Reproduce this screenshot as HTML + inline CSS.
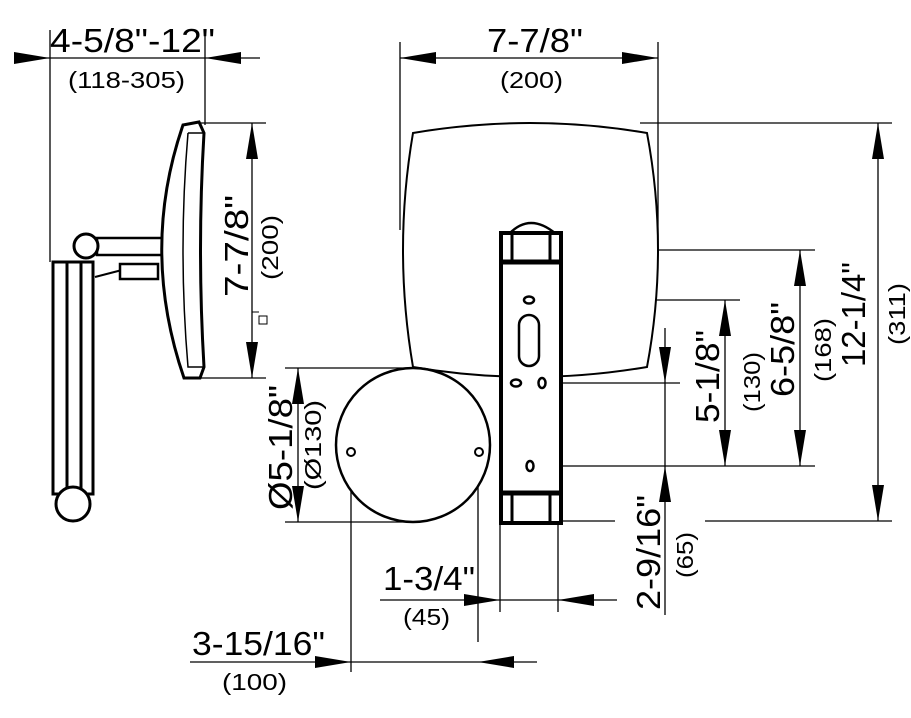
<!DOCTYPE html>
<html><head><meta charset="utf-8"><style>
html,body{margin:0;padding:0;background:#fff;}
svg{display:block;font-family:"Liberation Sans",Arial,sans-serif;}
</style></head><body>
<svg width="911" height="718" viewBox="0 0 911 718" xmlns="http://www.w3.org/2000/svg">
<g stroke="#000" stroke-width="1.3" fill="none">
<line x1="50" y1="30" x2="50" y2="262"/>
<line x1="205" y1="30" x2="205" y2="125"/>
<line x1="14" y1="58" x2="260" y2="58"/>
<line x1="200" y1="123" x2="266" y2="123"/>
<line x1="200" y1="378" x2="266" y2="378"/>
<line x1="252" y1="123" x2="252" y2="378"/>
<rect x="259" y="316" width="8" height="8" stroke-width="1"/>
<line x1="252" y1="312" x2="259" y2="312" stroke-width="1"/>
<line x1="400" y1="42" x2="400" y2="230"/>
<line x1="658" y1="42" x2="658" y2="250"/>
<line x1="400" y1="58" x2="658" y2="58"/>
<line x1="640" y1="123" x2="892" y2="123"/>
<line x1="705" y1="521" x2="892" y2="521"/>
<line x1="878" y1="123" x2="878" y2="521"/>
<line x1="658" y1="250" x2="815" y2="250"/>
<line x1="560" y1="466" x2="815" y2="466"/>
<line x1="800" y1="250" x2="800" y2="466"/>
<line x1="540" y1="300" x2="740" y2="300"/>
<line x1="545" y1="383" x2="680" y2="383"/>
<line x1="725" y1="300" x2="725" y2="466"/>
<line x1="665" y1="328" x2="665" y2="615"/>
<line x1="560" y1="521" x2="615" y2="521"/>
<line x1="500" y1="523" x2="500" y2="612"/>
<line x1="558" y1="523" x2="558" y2="612"/>
<line x1="478" y1="455" x2="478" y2="642"/>
<line x1="351" y1="455" x2="351" y2="672"/>
<line x1="380" y1="600" x2="617" y2="600"/>
<line x1="190" y1="662" x2="537" y2="662"/>
<line x1="285" y1="368" x2="413" y2="368"/>
<line x1="285" y1="522" x2="413" y2="522"/>
<line x1="298" y1="368" x2="298" y2="522"/>
</g>
<g fill="#000">
<polygon points="14,52 50,58 14,64"/>
<polygon points="241,52 205,58 241,64"/>
<polygon points="436,52 400,58 436,64"/>
<polygon points="622,52 658,58 622,64"/>
<polygon points="464,594 500,600 464,606"/>
<polygon points="594,594 558,600 594,606"/>
<polygon points="315,656 351,662 315,668"/>
<polygon points="514,656 478,662 514,668"/>
<polygon points="246,159 252,123 258,159"/>
<polygon points="246,342 252,378 258,342"/>
<polygon points="872,159 878,123 884,159"/>
<polygon points="872,485 878,521 884,485"/>
<polygon points="794,286 800,250 806,286"/>
<polygon points="794,430 800,466 806,430"/>
<polygon points="719,336 725,300 731,336"/>
<polygon points="719,430 725,466 731,430"/>
<polygon points="659,347 665,383 671,347"/>
<polygon points="659,502 665,466 671,502"/>
<polygon points="292,404 298,368 304,404"/>
<polygon points="292,486 298,522 304,486"/>
</g>
<g stroke="#000" fill="#fff" stroke-width="3">
<rect x="53" y="262" width="40" height="232"/>
<line x1="67" y1="262" x2="67" y2="494"/>
<line x1="81" y1="262" x2="81" y2="494"/>
<circle cx="73" cy="504" r="17"/>
<rect x="97" y="238" width="65" height="17" stroke-width="2.5"/>
<circle cx="86" cy="246" r="12"/>
<line x1="95" y1="277" x2="122" y2="270" stroke-width="2"/>
<rect x="120" y="264" width="38" height="15" stroke-width="2.5"/>
<path d="M183,125 L199,122 L204,133 Q197,250 204,367 L200,378 L184,378 Q140,250 183,125 Z"/>
<path d="M188,133 L204,133 M188,133 Q178,250 188,367 L204,367" stroke-width="1.5" fill="none"/>
</g>
<g stroke="#000" fill="#fff" stroke-width="2.5">
<path d="M413,133 Q530,113 647,133 Q669,250 647,367 Q530,387 413,367 Q393,250 413,133 Z" stroke-width="2"/>
<circle cx="413" cy="445" r="77"/>
<circle cx="351" cy="452" r="4" stroke-width="2"/>
<circle cx="479" cy="452" r="4" stroke-width="2"/>
<path d="M509,234 Q530,212 556,234 Z"/>
<rect x="501" y="233" width="60" height="290" stroke-width="4"/>
<line x1="501" y1="262" x2="561" y2="262" stroke-width="5"/>
<line x1="501" y1="493" x2="561" y2="493" stroke-width="5"/>
<line x1="512" y1="233" x2="512" y2="262" stroke-width="3"/>
<line x1="550" y1="233" x2="550" y2="262" stroke-width="3"/>
<line x1="512" y1="493" x2="512" y2="523" stroke-width="3"/>
<line x1="550" y1="493" x2="550" y2="523" stroke-width="3"/>
<ellipse cx="529" cy="300" rx="5" ry="3.5"/>
<rect x="519" y="315" width="20" height="51" rx="10"/>
<ellipse cx="516" cy="383" rx="5" ry="3.5"/>
<ellipse cx="542" cy="383" rx="3.5" ry="5"/>
<ellipse cx="530" cy="466" rx="3.5" ry="5"/>
</g>
<g fill="#000" font-size="33">
<text x="50" y="52" textLength="165" lengthAdjust="spacingAndGlyphs">4-5/8"-12"</text>
<text x="68" y="88" font-size="23" textLength="117" lengthAdjust="spacingAndGlyphs">(118-305)</text>
<text x="487" y="52" textLength="96" lengthAdjust="spacingAndGlyphs">7-7/8"</text>
<text x="500" y="88" font-size="23" textLength="63" lengthAdjust="spacingAndGlyphs">(200)</text>
<text transform="translate(248,297) rotate(-90)" textLength="102" lengthAdjust="spacingAndGlyphs">7-7/8"</text>
<text transform="translate(278,280) rotate(-90)" font-size="23" textLength="65" lengthAdjust="spacingAndGlyphs">(200)</text>
<text transform="translate(292,510) rotate(-90)" textLength="125" lengthAdjust="spacingAndGlyphs">Ø5-1/8"</text>
<text transform="translate(321,490) rotate(-90)" font-size="23" textLength="90" lengthAdjust="spacingAndGlyphs">(Ø130)</text>
<text transform="translate(719,423) rotate(-90)" textLength="93" lengthAdjust="spacingAndGlyphs">5-1/8"</text>
<text transform="translate(760,412) rotate(-90)" font-size="23" textLength="60" lengthAdjust="spacingAndGlyphs">(130)</text>
<text transform="translate(794,397) rotate(-90)" textLength="95" lengthAdjust="spacingAndGlyphs">6-5/8"</text>
<text transform="translate(831,382) rotate(-90)" font-size="23" textLength="64" lengthAdjust="spacingAndGlyphs">(168)</text>
<text transform="translate(865,367) rotate(-90)" textLength="105" lengthAdjust="spacingAndGlyphs">12-1/4"</text>
<text transform="translate(905,345) rotate(-90)" font-size="23" textLength="62" lengthAdjust="spacingAndGlyphs">(311)</text>
<text transform="translate(660,610) rotate(-90)" textLength="115" lengthAdjust="spacingAndGlyphs">2-9/16"</text>
<text transform="translate(693,578) rotate(-90)" font-size="23" textLength="46" lengthAdjust="spacingAndGlyphs">(65)</text>
<text x="383" y="590" textLength="92" lengthAdjust="spacingAndGlyphs">1-3/4"</text>
<text x="403" y="625" font-size="23" textLength="47" lengthAdjust="spacingAndGlyphs">(45)</text>
<text x="192" y="655" textLength="133" lengthAdjust="spacingAndGlyphs">3-15/16"</text>
<text x="222" y="690" font-size="23" textLength="65" lengthAdjust="spacingAndGlyphs">(100)</text>
</g>
</svg>
</body></html>
